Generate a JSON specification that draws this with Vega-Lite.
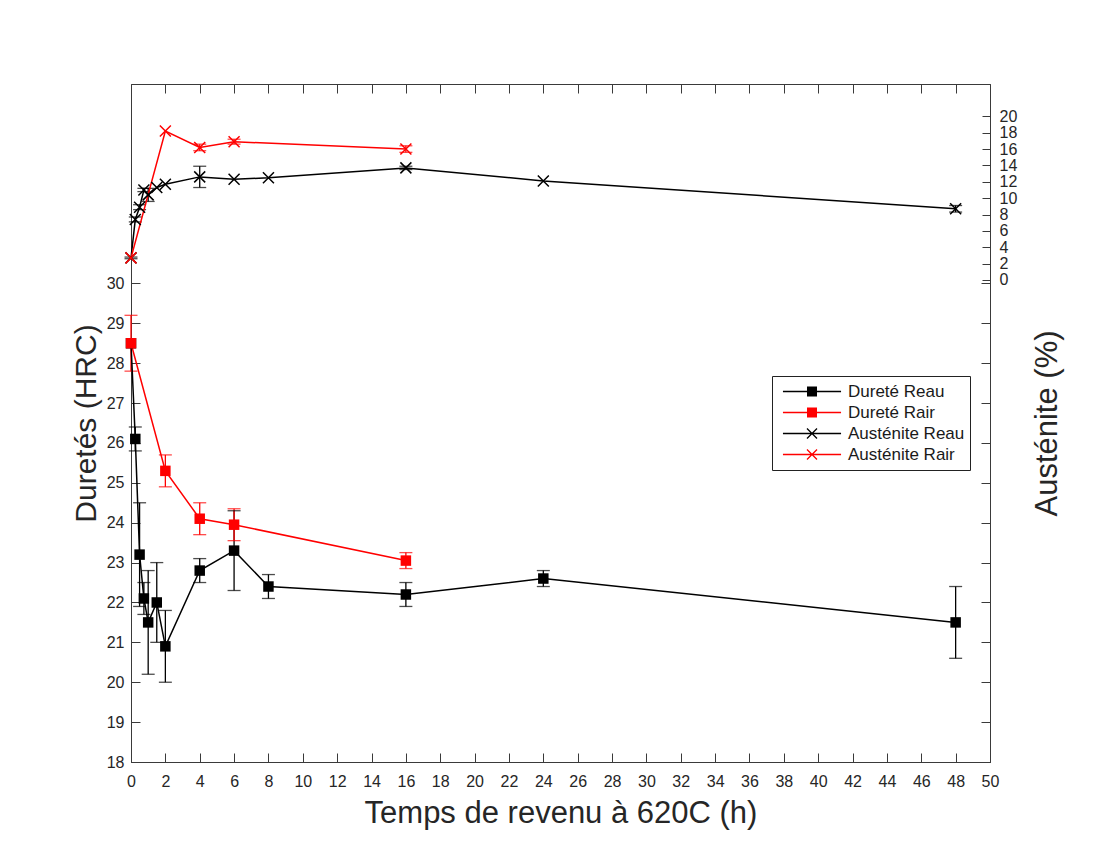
{
  "$schema": "https://vega.github.io/schema/vega-lite/v6.json",
  "width": 859,
  "height": 678,
  "autosize": {"type": "none"},
  "padding": {"left": 131, "top": 84, "right": 114, "bottom": 105},
  "background": "white",
  "config": {
    "font": "Liberation Sans",
    "view": {"stroke": "#3a3a3a", "strokeWidth": 1},
    "axis": {
      "grid": false,
      "domainColor": "#3a3a3a",
      "tickColor": "#3a3a3a",
      "labelColor": "#262626",
      "titleColor": "#262626",
      "labelFont": "Liberation Sans",
      "titleFont": "Liberation Sans",
      "titleFontWeight": "normal",
      "labelFontSize": 16,
      "titleFontSize": 30,
      "tickSize": -9,
      "labelPadding": 16
    },
    "legend": {
      "padding": 5,
      "strokeColor": "#222222",
      "fillColor": "white",
      "labelFont": "Liberation Sans",
      "labelFontSize": 17,
      "labelColor": "#1a1a1a",
      "symbolSize": 4900,
      "clipHeight": 21,
      "rowPadding": 0,
      "labelOffset": 1,
      "symbolOpacity": 1,
      "symbolStrokeWidth": 0
    }
  },
  "datasets": {
    "hrc": [
      {"series": "Dureté Reau", "t": 0, "v": 28.5},
      {"series": "Dureté Reau", "t": 0.25, "v": 26.1, "lo": 25.8, "hi": 26.4},
      {"series": "Dureté Reau", "t": 0.5, "v": 23.2, "lo": 21.9, "hi": 24.5},
      {"series": "Dureté Reau", "t": 0.75, "v": 22.1, "lo": 21.7, "hi": 22.5},
      {"series": "Dureté Reau", "t": 1, "v": 21.5, "lo": 20.2, "hi": 22.8},
      {"series": "Dureté Reau", "t": 1.5, "v": 22.0, "lo": 21.0, "hi": 23.0},
      {"series": "Dureté Reau", "t": 2, "v": 20.9, "lo": 20.0, "hi": 21.8},
      {"series": "Dureté Reau", "t": 4, "v": 22.8, "lo": 22.5, "hi": 23.1},
      {"series": "Dureté Reau", "t": 6, "v": 23.3, "lo": 22.3, "hi": 24.3},
      {"series": "Dureté Reau", "t": 8, "v": 22.4, "lo": 22.1, "hi": 22.7},
      {"series": "Dureté Reau", "t": 16, "v": 22.2, "lo": 21.9, "hi": 22.5},
      {"series": "Dureté Reau", "t": 24, "v": 22.6, "lo": 22.4, "hi": 22.8},
      {"series": "Dureté Reau", "t": 48, "v": 21.5, "lo": 20.6, "hi": 22.4},
      {"series": "Dureté Rair", "t": 0, "v": 28.5, "lo": 27.8, "hi": 29.2},
      {"series": "Dureté Rair", "t": 2, "v": 25.3, "lo": 24.9, "hi": 25.7},
      {"series": "Dureté Rair", "t": 4, "v": 24.1, "lo": 23.7, "hi": 24.5},
      {"series": "Dureté Rair", "t": 6, "v": 23.95, "lo": 23.55, "hi": 24.35},
      {"series": "Dureté Rair", "t": 16, "v": 23.05, "lo": 22.85, "hi": 23.25}
    ],
    "aus": [
      {"series": "Austénite Reau", "t": 0, "v": 2.7, "lo": 2.6, "hi": 2.8},
      {"series": "Austénite Reau", "t": 0.25, "v": 7.4, "lo": 7.1, "hi": 7.7},
      {"series": "Austénite Reau", "t": 0.5, "v": 8.9, "lo": 8.6, "hi": 9.2},
      {"series": "Austénite Reau", "t": 0.75, "v": 11.0, "lo": 10.8, "hi": 11.2},
      {"series": "Austénite Reau", "t": 1, "v": 10.4, "lo": 9.6, "hi": 11.2},
      {"series": "Austénite Reau", "t": 1.5, "v": 11.3},
      {"series": "Austénite Reau", "t": 2, "v": 11.7},
      {"series": "Austénite Reau", "t": 4, "v": 12.6, "lo": 11.3, "hi": 13.9},
      {"series": "Austénite Reau", "t": 6, "v": 12.3},
      {"series": "Austénite Reau", "t": 8, "v": 12.5},
      {"series": "Austénite Reau", "t": 16, "v": 13.7, "lo": 13.5, "hi": 13.9},
      {"series": "Austénite Reau", "t": 24, "v": 12.1},
      {"series": "Austénite Reau", "t": 48, "v": 8.7, "lo": 8.3, "hi": 9.1},
      {"series": "Austénite Rair", "t": 0, "v": 2.7},
      {"series": "Austénite Rair", "t": 2, "v": 18.2},
      {"series": "Austénite Rair", "t": 4, "v": 16.2, "lo": 15.8, "hi": 16.6},
      {"series": "Austénite Rair", "t": 6, "v": 16.9, "lo": 16.6, "hi": 17.2},
      {"series": "Austénite Rair", "t": 16, "v": 16.0, "lo": 15.6, "hi": 16.4}
    ],
    "leg": [
      {"series": "Dureté Reau"},
      {"series": "Dureté Rair"},
      {"series": "Austénite Reau"},
      {"series": "Austénite Rair"}
    ]
  },
  "layer": [
    {
      "data": {"name": "hrc"},
      "mark": {"type": "rule", "strokeWidth": 1.3},
      "encoding": {
        "x": {
          "field": "t", "type": "quantitative",
          "scale": {"domain": [0, 50], "nice": false, "zero": false},
          "axis": {
            "orient": "bottom",
            "values": [0,2,4,6,8,10,12,14,16,18,20,22,24,26,28,30,32,34,36,38,40,42,44,46,48,50],
            "title": "Temps de revenu à 620C (h)",
            "titleFontSize": 31,
            "tickSize": -9,
            "labelPadding": 20,
            "titlePadding": 9,
            "labelFlush": false
          }
        },
        "y": {
          "field": "lo", "type": "quantitative",
          "scale": {"domain": [18, 35], "nice": false, "zero": false},
          "axis": {
            "orient": "left",
            "values": [18,19,20,21,22,23,24,25,26,27,28,29,30],
            "title": "Duretés (HRC)",
            "tickSize": -9,
            "titlePadding": 5,
            "labelFlush": false
          }
        },
        "y2": {"field": "hi"},
        "color": {
          "field": "series", "type": "nominal",
          "scale": {"domain": ["Dureté Reau", "Austénite Reau", "Dureté Rair", "Austénite Rair"], "range": ["#000000", "#000000", "#ff0000", "#ff0000"]},
          "legend": null
        }
      }
    },
    {
      "data": {"name": "hrc"},
      "mark": {"type": "tick", "orient": "horizontal", "thickness": 1.3},
      "encoding": {
        "x": {"field": "t", "type": "quantitative", "scale": {"domain": [0, 50], "nice": false, "zero": false}, "axis": null},
        "y": {"field": "lo", "type": "quantitative", "scale": {"domain": [18, 35], "nice": false, "zero": false}, "axis": null},
        "color": {"field": "series", "type": "nominal", "legend": null},
        "size": {
          "field": "series", "type": "ordinal",
          "scale": {"domain": ["Dureté Reau", "Austénite Reau", "Dureté Rair", "Austénite Rair"], "range": [13, 13, 8, 9]},
          "legend": null
        }
      }
    },
    {
      "data": {"name": "hrc"},
      "mark": {"type": "tick", "orient": "horizontal", "thickness": 1.3},
      "encoding": {
        "x": {"field": "t", "type": "quantitative", "scale": {"domain": [0, 50], "nice": false, "zero": false}, "axis": null},
        "y": {"field": "hi", "type": "quantitative", "scale": {"domain": [18, 35], "nice": false, "zero": false}, "axis": null},
        "color": {"field": "series", "type": "nominal", "legend": null},
        "size": {"field": "series", "type": "ordinal", "legend": null}
      }
    },
    {
      "data": {"name": "hrc"},
      "mark": {"type": "line", "strokeWidth": 1.5},
      "encoding": {
        "x": {"field": "t", "type": "quantitative", "scale": {"domain": [0, 50], "nice": false, "zero": false}, "axis": null},
        "y": {"field": "v", "type": "quantitative", "scale": {"domain": [18, 35], "nice": false, "zero": false}, "axis": null},
        "color": {"field": "series", "type": "nominal", "legend": null}
      }
    },
    {
      "data": {"name": "hrc"},
      "mark": {"type": "point", "shape": "square", "filled": true, "opacity": 1, "size": 110},
      "encoding": {
        "x": {"field": "t", "type": "quantitative", "scale": {"domain": [0, 50], "nice": false, "zero": false}, "axis": null},
        "y": {"field": "v", "type": "quantitative", "scale": {"domain": [18, 35], "nice": false, "zero": false}, "axis": null},
        "color": {"field": "series", "type": "nominal", "legend": null}
      }
    },
    {
      "data": {"name": "aus"},
      "mark": {"type": "rule", "strokeWidth": 1.3},
      "encoding": {
        "x": {"field": "t", "type": "quantitative", "scale": {"domain": [0, 50], "nice": false, "zero": false}, "axis": null},
        "y": {
          "field": "lo", "type": "quantitative",
          "scale": {"domain": [-58.9, 23.95], "nice": false, "zero": false},
          "axis": {
            "orient": "right",
            "values": [0,2,4,6,8,10,12,14,16,18,20],
            "title": "Austénite (%)",
            "titleAngle": 270,
            "titleFontSize": 31,
            "tickSize": -8,
            "labelPadding": 17,
            "titlePadding": 47,
            "labelFlush": false
          }
        },
        "y2": {"field": "hi"},
        "color": {"field": "series", "type": "nominal", "legend": null}
      }
    },
    {
      "data": {"name": "aus"},
      "mark": {"type": "tick", "orient": "horizontal", "thickness": 1.3},
      "encoding": {
        "x": {"field": "t", "type": "quantitative", "scale": {"domain": [0, 50], "nice": false, "zero": false}, "axis": null},
        "y": {"field": "lo", "type": "quantitative", "scale": {"domain": [-58.9, 23.95], "nice": false, "zero": false}, "axis": null},
        "color": {"field": "series", "type": "nominal", "legend": null},
        "size": {"field": "series", "type": "ordinal", "legend": null}
      }
    },
    {
      "data": {"name": "aus"},
      "mark": {"type": "tick", "orient": "horizontal", "thickness": 1.3},
      "encoding": {
        "x": {"field": "t", "type": "quantitative", "scale": {"domain": [0, 50], "nice": false, "zero": false}, "axis": null},
        "y": {"field": "hi", "type": "quantitative", "scale": {"domain": [-58.9, 23.95], "nice": false, "zero": false}, "axis": null},
        "color": {"field": "series", "type": "nominal", "legend": null},
        "size": {"field": "series", "type": "ordinal", "legend": null}
      }
    },
    {
      "data": {"name": "aus"},
      "mark": {"type": "line", "strokeWidth": 1.5},
      "encoding": {
        "x": {"field": "t", "type": "quantitative", "scale": {"domain": [0, 50], "nice": false, "zero": false}, "axis": null},
        "y": {"field": "v", "type": "quantitative", "scale": {"domain": [-58.9, 23.95], "nice": false, "zero": false}, "axis": null},
        "color": {"field": "series", "type": "nominal", "legend": null}
      }
    },
    {
      "data": {"name": "aus"},
      "mark": {"type": "point", "shape": "M-1,-1L1,1M-1,1L1,-1", "filled": false, "strokeWidth": 1.5, "opacity": 1, "size": 121},
      "encoding": {
        "x": {"field": "t", "type": "quantitative", "scale": {"domain": [0, 50], "nice": false, "zero": false}, "axis": null},
        "y": {"field": "v", "type": "quantitative", "scale": {"domain": [-58.9, 23.95], "nice": false, "zero": false}, "axis": null},
        "color": {"field": "series", "type": "nominal", "legend": null}
      }
    },
    {
      "data": {"name": "hrc"},
      "mark": {"type": "point", "opacity": 0},
      "encoding": {
        "x": {
          "field": "t", "type": "quantitative",
          "scale": {"domain": [0, 50], "nice": false, "zero": false},
          "axis": {
            "orient": "top",
            "values": [0,2,4,6,8,10,12,14,16,18,20,22,24,26,28,30,32,34,36,38,40,42,44,46,48,50],
            "labels": false, "domain": false, "title": null, "tickSize": -9
          }
        },
        "y": {
          "field": "v", "type": "quantitative",
          "scale": {"domain": [18, 35], "nice": false, "zero": false},
          "axis": {
            "orient": "right",
            "values": [18,19,20,21,22,23,24,25,26,27,28,29,30],
            "labels": false, "domain": false, "title": null, "tickSize": -9
          }
        }
      }
    },
    {
      "data": {"name": "leg"},
      "mark": {"type": "point", "filled": true, "opacity": 0},
      "encoding": {
        "fill": {
          "field": "series", "type": "nominal",
          "scale": {"domain": ["Dureté Reau", "Dureté Rair", "Austénite Reau", "Austénite Rair"], "range": ["#000000", "#ff0000", "#000000", "#ff0000"]},
          "legend": {"title": null, "orient": "none", "legendX": 641, "legendY": 292}
        },
        "shape": {
          "field": "series", "type": "nominal",
          "scale": {
            "domain": ["Dureté Reau", "Dureté Rair", "Austénite Reau", "Austénite Rair"],
            "range": [
              "M-0.83,-0.02V0.02H0.83V-0.02ZM-0.143,-0.143V0.143H0.143V-0.143Z",
              "M-0.83,-0.02V0.02H0.83V-0.02ZM-0.143,-0.143V0.143H0.143V-0.143Z",
              "M-0.83,-0.02V0.02H0.83V-0.02ZM-0.156,-0.13L0.13,0.156L0.156,0.13L-0.13,-0.156ZM-0.13,0.156L0.156,-0.13L0.13,-0.156L-0.156,0.13Z",
              "M-0.83,-0.02V0.02H0.83V-0.02ZM-0.156,-0.13L0.13,0.156L0.156,0.13L-0.13,-0.156ZM-0.13,0.156L0.156,-0.13L0.13,-0.156L-0.156,0.13Z"
            ]
          },
          "legend": {"title": null, "orient": "none", "legendX": 641, "legendY": 292}
        }
      }
    }
  ],
  "resolve": {"scale": {"x": "independent", "y": "independent"}}
}
